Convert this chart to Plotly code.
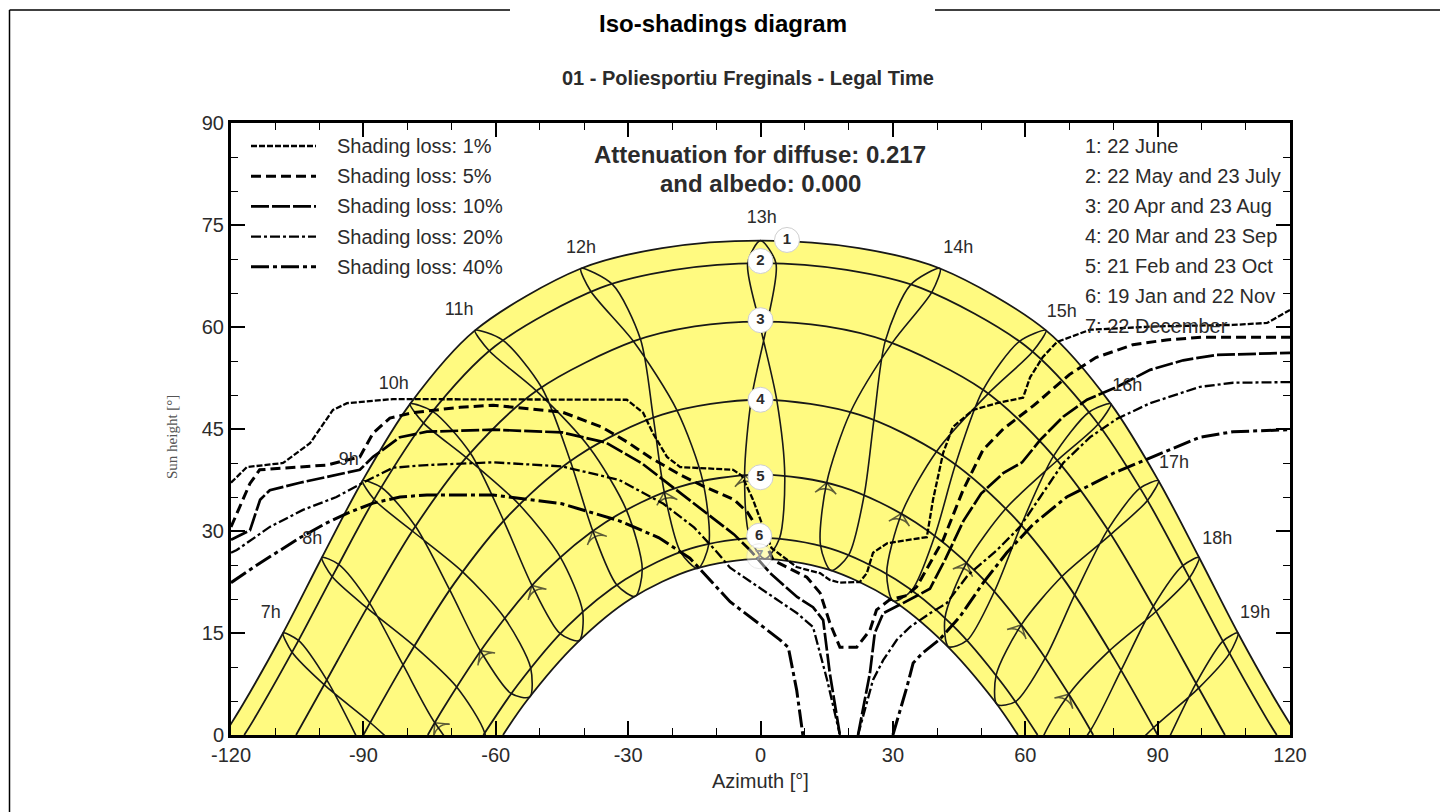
import plotly.graph_objects as go

# ---------------- data ----------------
azimuth_ticks = [-120, -90, -60, -30, 0, 30, 60, 90, 120]
height_ticks = [0, 15, 30, 45, 60, 75, 90]

date_labels = ["1: 22 June", "2: 22 May and 23 July", "3: 20 Apr and 23 Aug",
               "4: 20 Mar and 23 Sep", "5: 21 Feb and 23 Oct", "6: 19 Jan and 22 Nov",
               "7: 22 December"]

# sun paths (azimuth, sun height) per date
path1_az = [-121.6, -117.25, -108.2, -99.4, -90.2, -79.4, -64.7, -40.7, -22.3, 0, 22.3, 40.7, 64.7, 79.4, 90.2, 99.4, 108.2, 117.25, 121.6]
path1_h = [0, 4.55, 15.0, 26.1, 37.4, 48.7, 59.5, 68.6, 71.6, 72.7, 71.6, 68.6, 59.5, 48.7, 37.4, 26.1, 15.0, 4.55, 0]
path2_az = [-117.0, -114.8, -105.5, -96.4, -86.8, -75.4, -60.1, -36.3, -19.5, 0, 19.5, 36.3, 60.1, 75.4, 86.8, 96.4, 105.5, 114.8, 117.0]
path2_h = [0, 2.3, 12.95, 24.1, 35.5, 46.7, 57.2, 65.75, 68.4, 69.4, 68.4, 65.75, 57.2, 46.7, 35.5, 24.1, 12.95, 2.3, 0]
path3_az = [-105.25, -98.8, -89.1, -78.8, -66.55, -50.6, -28.55, -14.9, 0, 14.9, 28.55, 50.6, 66.55, 78.8, 89.1, 98.8, 105.25]
path3_h = [0, 7.5, 18.8, 30.1, 40.9, 50.7, 57.95, 60.1, 60.8, 60.1, 57.95, 50.7, 40.9, 30.1, 18.8, 7.5, 0]
path4_az = [-90, -80.1, -69.4, -56.9, -41.5, -22.3, 0, 22.3, 41.5, 56.9, 69.4, 80.1, 90]
path4_h = [0, 11.3, 22.3, 32.4, 41.0, 47.1, 49.3, 47.1, 41.0, 32.4, 22.3, 11.3, 0]
path5_az = [-75.4, -71.9, -61.3, -49.3, -35.1, -18.4, 0, 18.4, 35.1, 49.3, 61.3, 71.9, 75.4]
path5_h = [0, 3.9, 14.3, 23.7, 31.3, 36.5, 38.3, 36.5, 31.3, 23.7, 14.3, 3.9, 0]
path6_az = [-62.8, -55.0, -43.6, -30.6, -15.9, 0, 15.9, 30.6, 43.6, 55.0, 62.8]
path6_h = [0, 7.4, 16.1, 22.9, 27.4, 29.0, 27.4, 22.9, 16.1, 7.4, 0]
path7_az = [-58.35, -52.9, -41.8, -29.2, -15.1, 0, 15.1, 29.2, 41.8, 52.9, 58.35]
path7_h = [0, 5.1, 13.4, 20.1, 24.4, 25.9, 24.4, 20.1, 13.4, 5.1, 0]

# hour lines (legal time), dates Dec -> Jun -> Dec
hour_names = ["7h", "8h", "9h", "10h", "11h", "12h", "13h", "14h", "15h", "16h", "17h", "18h", "19h"]
h07_az = [-90.9, -98.3, -104.7, -108.2, -106.2, -98.9, -88.4, -78.8]
h07_h = [-1.1, 8.1, 13.9, 15.0, 12.2, 7.4, 1.8, -3.9]
h08_az = [-62.2, -66.5, -73.8, -81.0, -88.6, -95.6, -99.4, -97.1, -89.2, -78.5, -68.9, -62.5, -62.2]
h08_h = [-3.9, -3.9, 1.8, 10.3, 19.4, 25.1, 26.1, 23.3, 18.7, 13.1, 7.1, 0.3, -3.9]
h09_az = [-52.3, -56.5, -63.5, -70.4, -78.2, -85.9, -90.2, -87.5, -78.9, -67.5, -58.0, -52.1, -52.3]
h09_h = [5.6, 6.1, 12.4, 21.3, 30.7, 36.4, 37.4, 34.6, 30.0, 24.0, 17.2, 9.9, 5.6]
h10_az = [-41.1, -45.4, -51.8, -58.2, -65.8, -74.3, -79.4, -76.4, -66.7, -54.7, -45.4, -40.3, -41.1]
h10_h = [13.9, 14.9, 22.0, 31.5, 41.5, 47.6, 48.7, 45.9, 40.8, 33.9, 26.2, 18.1, 13.9]
h11_az = [-28.4, -32.6, -38.0, -43.1, -49.6, -58.5, -64.7, -61.5, -50.8, -38.7, -30.4, -26.8, -28.4]
h11_h = [20.4, 22.1, 30.0, 40.3, 51.1, 58.1, 59.5, 56.5, 50.6, 42.2, 33.1, 24.4, 20.4]
h12_az = [-14.2, -18.1, -21.8, -24.3, -27.2, -33.6, -40.7, -38.5, -28.8, -18.9, -13.1, -11.7, -14.2]
h12_h = [24.5, 26.9, 35.7, 46.7, 58.2, 66.3, 68.6, 65.3, 57.9, 47.7, 37.4, 28.1, 24.5]
h13_az = [1.0, -2.4, -3.6, -2.1, 1.6, 3.5, 0.0, -2.9, -0.3, 3.7, 5.5, 4.3, 1.0]
h13_h = [25.9, 29.0, 38.2, 49.3, 60.8, 69.4, 72.7, 69.4, 60.8, 49.2, 38.1, 28.9, 25.9]
h14_az = [16.0, 13.6, 15.0, 20.4, 29.9, 38.9, 40.7, 34.0, 28.3, 25.7, 23.5, 20.0, 16.0]
h14_h = [24.2, 27.9, 37.1, 47.5, 57.7, 65.2, 68.6, 66.2, 58.0, 46.3, 35.3, 26.5, 24.2]
h15_az = [30.1, 28.6, 32.0, 39.9, 51.6, 61.7, 64.7, 58.7, 50.4, 44.2, 39.5, 34.3, 30.1]
h15_h = [19.7, 23.8, 32.6, 41.7, 50.2, 56.4, 59.5, 57.9, 50.7, 39.8, 29.3, 21.3, 19.7]
h16_az = [42.6, 41.8, 46.7, 55.6, 67.3, 76.5, 79.4, 74.5, 66.4, 59.1, 53.0, 46.8, 42.6]
h16_h = [13.0, 17.2, 25.3, 33.3, 40.4, 45.7, 48.7, 47.5, 41.0, 30.9, 21.1, 13.9, 13.0]
h17_az = [53.6, 53.4, 59.1, 68.3, 79.4, 87.7, 90.2, 86.0, 78.7, 71.2, 64.6, 57.8, 53.6]
h17_h = [4.5, 8.8, 16.2, 23.3, 29.5, 34.5, 37.4, 36.3, 30.2, 20.6, 11.4, 4.9, 4.5]
h18_az = [63.3, 63.7, 69.9, 79.1, 89.7, 97.2, 99.4, 95.7, 89.0, 81.7, 74.8, 67.6, 63.3]
h18_h = [-5.2, -0.9, 6.0, 12.4, 18.2, 23.1, 26.1, 24.9, 18.9, 9.5, 0.7, -5.2, -5.2]
h19_az = [79.8, 89.1, 99.3, 106.3, 108.2, 104.8, 98.7, 91.6]
h19_h = [-5.0, 1.1, 6.9, 12.0, 15.0, 13.8, 7.6, -1.8]
# position (index) of the direction arrow on each hour line (the 21 Feb point), None = no arrow
hour_arrow_idx = [None, 2, 2, 2, 2, 2, 2, 2, 2, 2, 2, 2, None]

hour_label_az = [-111.0, -101.6, -93.3, -83.1, -68.3, -40.7, 0.3, 44.8, 68.3, 83.1, 93.7, 103.5, 112.1]
hour_label_h = [17.9, 28.8, 40.3, 51.5, 62.5, 71.6, 75.9, 71.6, 62.1, 51.2, 40.0, 28.7, 17.8]

marker_names = ["1", "2", "3", "4", "5", "6", "7"]
marker_az = [6.0, 0, 0, 0, 0, -0.3, -0.3]
marker_h = [72.8, 69.7, 61.0, 49.3, 37.9, 29.3, 26.3]

# iso-shading curves (None = curve leaves the visible sky at the horizon)
iso_names = ["Shading loss: 1%", "Shading loss: 5%", "Shading loss: 10%",
             "Shading loss: 20%", "Shading loss: 40%"]
iso01_az = [-120, -116.4, -108.2, -102.1, -96.9, -93.7, -83.3, -60, -45, -30.3, -26.6, -24.4, -21.2, -18.2, -12, -6.2, -4.2, -1.7, 0.6, 2.5, 8.2, 13.5, 15.7, 18, 22.5, 24.1, 25.5, 28.7, 37.7, 39.1, 41.4, 43.6, 48.2, 53.6, 59.5, 61.1, 64, 67.2, 74.7, 90, 107, 114.8, 120]
iso01_h = [37.1, 39.4, 40.0, 42.9, 47.8, 48.8, 49.4, 49.4, 49.4, 49.3, 47.4, 44.4, 40.9, 39.4, 39.2, 39.0, 38.1, 34.6, 30.6, 27.5, 24.7, 23.8, 22.8, 22.4, 22.5, 23.8, 26.8, 28.2, 29.1, 34.6, 41.5, 45.3, 47.8, 48.8, 49.6, 52.6, 55.6, 57.8, 59.6, 60.1, 60.3, 60.6, 62.5]
iso05_az = [-120, -118, -115.7, -113.5, -105, -98.3, -90.8, -87.8, -84, -78.8, -68.1, -60.6, -45, -36, -30, -25, -18, -13, -6, -3, 0, 2.9, 10.5, 13.5, 15.7, 18, 21.8, 24.8, 26.3, 29.3, 33.1, 35.4, 41.4, 45.9, 50.4, 55, 62, 70, 76, 84.4, 92, 100, 120]
iso05_h = [30.6, 33.5, 37.0, 39.0, 39.4, 39.7, 40.9, 44.4, 46.6, 47.4, 48.2, 48.5, 47.5, 45.3, 43.0, 40.8, 38.2, 36.6, 34.6, 32.8, 29.7, 25.7, 23.2, 20.9, 16.5, 12.9, 12.9, 15.4, 18.4, 19.9, 20.5, 21.8, 28.7, 36.0, 41.9, 45.0, 48.5, 53.0, 55.5, 57.4, 58.1, 58.5, 58.5]
iso10_az = [-120, -115.7, -113.4, -111.2, -104.4, -96.9, -90.8, -87.8, -81.7, -75.6, -60.6, -45, -35, -27, -20, -12, -6, -2.4, 2.2, 8.3, 11.9, 14.2, 15.7, 18, None, 22.1, 24.8, 25.9, 27.8, 32.3, 38.4, 42, 46, 50, 55, 59.3, 63.4, 68.6, 74, 80.8, 88.3, 95.8, 103.4, 120]
iso10_h = [28.7, 30.1, 34.6, 36.0, 37.1, 38.2, 39.0, 40.9, 43.8, 44.6, 44.9, 44.5, 43.0, 40.0, 36.5, 32.5, 29.5, 27.2, 23.8, 20.3, 18.8, 16.9, 9.1, 0, None, 0, 9.1, 15.0, 17.9, 19.4, 21.5, 26.0, 31.5, 35.5, 38.5, 40.1, 43.4, 46.8, 49.3, 51.2, 53.7, 55.1, 55.9, 56.2]
iso20_az = [-120, -118.7, -111.2, -103.7, -96.1, -90.1, -83.3, -75.6, -60.6, -45, -32, -22, -15, -10, -6.9, 0.6, 8.3, 11.9, 15.1, 18, None, 22.1, 25.5, 27.8, 30.9, 33.9, 38.4, 42.2, 47, 53.6, 58.8, 63.4, 68.6, 74.7, 80.8, 88.3, 99.6, 107.1, 120]
iso20_h = [26.8, 27.2, 30.6, 33.1, 35.0, 37.1, 39.3, 39.7, 40.1, 39.5, 37.5, 34.0, 30.5, 27.0, 24.6, 21.3, 17.9, 15.9, 8.1, 0, None, 0, 8.1, 11.0, 14.0, 15.9, 17.9, 19.4, 23.5, 27.2, 30.6, 35.0, 40.0, 43.8, 46.5, 48.8, 51.2, 51.8, 51.9]
iso40_az = [-120, -113.4, -104.4, -98.3, -93.7, -87.8, -81.7, -75.6, -60.6, -45, -32, -23, -16, -11, -6.9, 0.6, 4.4, 6.3, 8.2, 9.6, None, 30, 33.2, 34.6, 36.8, 40.5, 45.2, 50.5, 55.8, 61.8, 69.4, 80, 88.3, 99.6, 107.1, 120]
iso40_h = [22.4, 25.3, 29.0, 31.2, 32.6, 34.1, 35.0, 35.3, 35.3, 34.0, 31.5, 29.0, 26.0, 22.5, 19.6, 15.9, 14.0, 12.9, 6.6, 0, None, 0, 7.1, 10.6, 12.1, 14.0, 17.4, 22.4, 26.8, 31.0, 35.0, 38.5, 40.7, 43.8, 44.6, 44.9]

# ---------------- figure ----------------
INK = "#181818"
TXT = "#2b2b2b"
YELLOW = "#FFFA80"
FONT = "Liberation Sans, Arial, sans-serif"

fig = go.Figure()

# yellow band between 22 June and 22 December paths
fig.add_trace(go.Scatter(x=path1_az, y=path1_h, mode="lines", line=dict(width=0, shape="spline"),
                         hoverinfo="skip", showlegend=False))
fig.add_trace(go.Scatter(x=path7_az, y=path7_h, mode="lines", line=dict(width=0, shape="spline"),
                         fill="tonexty", fillcolor=YELLOW, hoverinfo="skip", showlegend=False))

paths = [(path1_az, path1_h), (path2_az, path2_h), (path3_az, path3_h), (path4_az, path4_h),
         (path5_az, path5_h), (path6_az, path6_h), (path7_az, path7_h)]
for (az, h), nm in zip(paths, date_labels):
    fig.add_trace(go.Scatter(x=az, y=h, mode="lines", name=nm, showlegend=False,
                             line=dict(color=INK, width=1.8, shape="spline", smoothing=0.9)))

hours = [(h07_az, h07_h), (h08_az, h08_h), (h09_az, h09_h), (h10_az, h10_h), (h11_az, h11_h),
         (h12_az, h12_h), (h13_az, h13_h), (h14_az, h14_h), (h15_az, h15_h), (h16_az, h16_h),
         (h17_az, h17_h), (h18_az, h18_h), (h19_az, h19_h)]
for (az, h), nm, ai in zip(hours, hour_names, hour_arrow_idx):
    sizes = [0] * len(az)
    if ai is not None:
        sizes[ai] = 15
    fig.add_trace(go.Scatter(x=az, y=h, mode="lines+markers", name=nm, showlegend=False,
                             line=dict(color=INK, width=1.6, shape="spline", smoothing=0.8),
                             marker=dict(symbol="arrow-wide-open", size=sizes, angleref="previous",
                                         color=INK, line=dict(color=INK, width=1.5)),
                             cliponaxis=True, hoverinfo="skip"))

iso_dash = ["6px,2px", "10px,5px", "18px,3px", "10px,3px,3px,3px", "18px,4px,4px,4px"]
iso_width = [2.3, 3.0, 2.7, 2.3, 3.0]
isos = [(iso01_az, iso01_h), (iso05_az, iso05_h), (iso10_az, iso10_h), (iso20_az, iso20_h), (iso40_az, iso40_h)]
for (az, h), nm, ds, wd in zip(isos, iso_names, iso_dash, iso_width):
    fig.add_trace(go.Scatter(x=az, y=h, mode="lines", name=nm, showlegend=False, connectgaps=False,
                             line=dict(color="black", width=wd, dash=ds)))

# hour labels
fig.add_trace(go.Scatter(x=hour_label_az, y=hour_label_h, mode="text", text=hour_names,
                         textfont=dict(family=FONT, size=18, color=TXT), showlegend=False,
                         hoverinfo="skip"))

# date markers
fig.add_trace(go.Scatter(x=marker_az, y=marker_h, mode="markers+text", text=["<b>%s</b>" % m for m in marker_names],
                         marker=dict(size=25, color="white", line=dict(color="#cfcfcf", width=1),
                                     opacity=[1, 1, 1, 1, 1, 1, 0.45]),
                         textfont=dict(family=FONT, size=15,
                                       color=[TXT, TXT, TXT, TXT, TXT, TXT, "#999999"]),
                         textposition="middle center", showlegend=False, hoverinfo="skip"))

axis_common = dict(showline=True, linewidth=3, linecolor="black", mirror="allticks",
                   ticks="inside", ticklen=14, tickwidth=1.5, tickcolor="black",
                   showgrid=False, zeroline=False,
                   tickfont=dict(family=FONT, size=20, color=TXT))
fig.update_xaxes(range=[-120, 120], tickmode="array", tickvals=azimuth_ticks,
                 ticktext=[str(v) for v in azimuth_ticks],
                 minor=dict(tickmode="linear", tick0=0, dtick=10, ticks="inside", ticklen=7,
                            tickwidth=1, tickcolor="black"), **axis_common)
fig.update_yaxes(range=[0, 90], tickmode="array", tickvals=height_ticks,
                 ticktext=[str(v) for v in height_ticks],
                 minor=dict(tickmode="linear", tick0=0, dtick=5, ticks="inside", ticklen=7,
                            tickwidth=1, tickcolor="black"), **axis_common)

# the page adds an 8 px body margin: the figure is sized so that the screen plot area
# spans x 231..1290 and y 123..735 of the 1448x812 window
OFF = 8
W, H = 1448 - OFF, 812 - OFF
SX0, SX1, SY0, SY1 = 231, 1290, 123, 735
L, T = SX0 - OFF, SY0 - OFF
R, B = W - (SX1 - OFF), H - (SY1 - OFF)
PW, PH = SX1 - SX0, SY1 - SY0


def px(xs):
    return (xs - SX0) / PW


def py(ys):
    return (SY1 - ys) / PH


shapes = []
annotations = []

# outer frame with title gap
frame = dict(type="line", xref="paper", yref="paper", line=dict(color="black", width=1.5))
shapes.append(dict(frame, x0=px(9.5), x1=px(9.5), y0=py(840), y1=py(10)))
shapes.append(dict(frame, x0=px(1443), x1=px(1443), y0=py(840), y1=py(10)))
shapes.append(dict(frame, x0=px(9.5), x1=px(510), y0=py(10), y1=py(10)))
shapes.append(dict(frame, x0=px(935), x1=px(1443), y0=py(10), y1=py(10)))

annotations.append(dict(text="<b>Iso-shadings diagram</b>", xref="paper", yref="paper",
                        x=px(723), y=py(8), xanchor="center", yanchor="top", showarrow=False,
                        font=dict(family=FONT, size=24, color="black")))
annotations.append(dict(text="<b>01 - Poliesportiu Freginals - Legal Time</b>", xref="paper", yref="paper",
                        x=px(748), y=py(78), xanchor="center", yanchor="middle", showarrow=False,
                        font=dict(family=FONT, size=20, color=TXT)))
annotations.append(dict(text="<b>Attenuation for diffuse: 0.217</b>", xref="paper", yref="paper",
                        x=px(760), y=py(154), xanchor="center", yanchor="middle", showarrow=False,
                        font=dict(family=FONT, size=24, color=TXT)))
annotations.append(dict(text="<b>and albedo: 0.000</b>", xref="paper", yref="paper",
                        x=px(760), y=py(183), xanchor="center", yanchor="middle", showarrow=False,
                        font=dict(family=FONT, size=24, color=TXT)))
annotations.append(dict(text="Azimuth [°]", xref="paper", yref="paper",
                        x=px(760), y=py(781), xanchor="center", yanchor="middle", showarrow=False,
                        font=dict(family=FONT, size=20, color=TXT)))
annotations.append(dict(text="Sun height [°]", xref="paper", yref="paper", textangle=-90,
                        x=px(172), y=py(437), xanchor="center", yanchor="middle", showarrow=False,
                        font=dict(family="Liberation Serif, Times New Roman, serif", size=15, color="#555555")))

# legend of iso-shading curves (drawn by hand for long samples)
for i, (nm, ds, wd) in enumerate(zip(iso_names, iso_dash, iso_width)):
    yy = 146 + i * 30.2
    shapes.append(dict(type="line", xref="paper", yref="paper", x0=px(251), x1=px(316),
                       y0=py(yy), y1=py(yy), line=dict(color="black", width=wd, dash=ds)))
    annotations.append(dict(text=nm, xref="paper", yref="paper", x=px(335), y=py(yy),
                            xanchor="left", yanchor="middle", showarrow=False,
                            font=dict(family=FONT, size=20, color=TXT)))

# date list
for i, nm in enumerate(date_labels):
    yy = 146 + i * 30
    annotations.append(dict(text=nm, xref="paper", yref="paper", x=px(1083), y=py(yy),
                            xanchor="left", yanchor="middle", showarrow=False,
                            font=dict(family=FONT, size=20, color=TXT)))

fig.update_layout(width=W, height=H, margin=dict(l=L, r=R, t=T, b=B, pad=0),
                  paper_bgcolor="white", plot_bgcolor="white", showlegend=False,
                  font=dict(family=FONT, size=20, color=TXT),
                  shapes=shapes, annotations=annotations)

fig.write_html("out.html")
